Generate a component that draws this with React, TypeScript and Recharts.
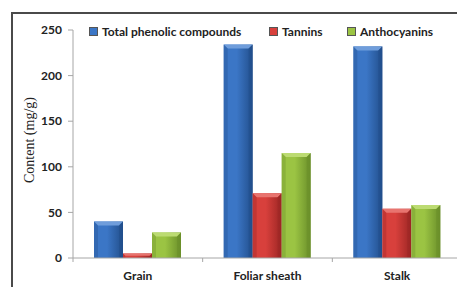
import React from "react";
import { BarChart, Bar, XAxis, YAxis, Legend } from "recharts";

const categories = ["Grain", "Foliar sheath", "Stalk"];
const totalPhenolic = [40, 234, 232];
const tannins = [5, 71, 54];
const anthocyanins = [28, 115, 58];
const yTicks = [0, 50, 100, 150, 200, 250];

const seriesNames = ["Total phenolic compounds", "Tannins", "Anthocyanins"];

const data = categories.map((c, i) => ({
  name: c,
  total: totalPhenolic[i],
  tannins: tannins[i],
  antho: anthocyanins[i],
}));

const palette = {
  total: { main: "#3b76c6", light: "#6f9ddb", dark: "#224f8c" },
  tannins: { main: "#d8403c", light: "#e8746f", dark: "#9c2624" },
  antho: { main: "#9bc443", light: "#bcdb72", dark: "#6a8f2a" },
};

const FONT = "Lato, 'Open Sans', sans-serif";

const makeShape = (key: "total" | "tannins" | "antho") => (props: any) => {
  const { x, y, width, height } = props;
  if (!height || height <= 0) return null;
  const b = Math.min(4, height / 2);
  const c = palette[key];
  return (
    <g>
      <rect x={x} y={y} width={width} height={height} fill={`url(#grad-${key})`} />
      <polygon
        points={`${x},${y} ${x + width},${y} ${x + width - b},${y + b} ${x + b},${y + b}`}
        fill={c.light}
      />
      <polygon
        points={`${x},${y} ${x + b},${y + b} ${x + b},${y + height} ${x},${y + height}`}
        fill={c.dark}
        opacity={0.35}
      />
      <polygon
        points={`${x + width},${y} ${x + width - b},${y + b} ${x + width - b},${y + height} ${x + width},${y + height}`}
        fill={c.dark}
        opacity={0.6}
      />
    </g>
  );
};

const legendColors = [palette.total.main, palette.tannins.main, palette.antho.main];
const legendOffsets = [0, 180, 258];

const LegendContent = () => (
  <div style={{ position: "relative", height: 16, fontFamily: FONT, fontWeight: 700, fontSize: 12, color: "#222" }}>
    {seriesNames.map((n, i) => (
      <div key={n} style={{ position: "absolute", left: legendOffsets[i], top: 0, display: "flex", alignItems: "center", whiteSpace: "nowrap" }}>
        <span style={{ display: "inline-block", width: 7, height: 7, background: legendColors[i], border: "0.5px solid #555", marginRight: 4 }} />
        <span>{n}</span>
      </div>
    ))}
  </div>
);

const CategoryTick = (props: any) => {
  const { x, y, payload } = props;
  const off = payload && typeof payload.offset === "number" ? payload.offset : 0;
  return (
    <g>
      <line x1={x - off} y1={y} x2={x - off} y2={y + 4} stroke="#a6a6a6" />
      {payload.index === categories.length - 1 && (
        <line x1={x + off} y1={y} x2={x + off} y2={y + 4} stroke="#a6a6a6" />
      )}
      <text
        x={x}
        y={y + 13}
        dy="0.71em"
        textAnchor="middle"
        fill="#222"
        fontFamily={FONT}
        fontWeight={700}
        fontSize={12}
      >
        {payload.value}
      </text>
    </g>
  );
};

export default function App() {
  return (
    <div style={{ position: "fixed", left: 0, top: 0, width: 457, height: 287, overflow: "hidden", background: "#fff" }}>
      <div
        style={{
          position: "absolute",
          left: 11,
          top: 12,
          width: 470,
          height: 300,
          border: "2px solid #4a4a4a",
          boxSizing: "border-box",
        }}
      />
      <div
        style={{
          position: "absolute",
          left: 30,
          top: 140,
          transform: "translate(-50%, -50%) rotate(-90deg)",
          fontFamily: "'Liberation Serif', 'Times New Roman', serif",
          fontSize: 14,
          color: "#222",
          whiteSpace: "nowrap",
        }}
      >
        Content (mg/g)
      </div>
      <div style={{ position: "absolute", left: 0, top: 0 }}>
        <BarChart
          width={470}
          height={287}
          data={data}
          margin={{ top: 30, right: 8, bottom: 0, left: 0 }}
          barGap={0}
          barSize={29}
        >
          <defs>
            {(["total", "tannins", "antho"] as const).map((k) => (
              <linearGradient key={k} id={`grad-${k}`} x1="0" y1="0" x2="1" y2="0">
                <stop offset="0%" stopColor={palette[k].main} />
                <stop offset="45%" stopColor={palette[k].main} />
                <stop offset="100%" stopColor={palette[k].dark} />
              </linearGradient>
            ))}
          </defs>
          <XAxis
            dataKey="name"
            axisLine={{ stroke: "#a6a6a6" }}
            tickLine={false}
            tickSize={0}
            tickMargin={0}
            height={29}
            tick={<CategoryTick />}
            interval={0}
          />
          <YAxis
            domain={[0, 250]}
            ticks={yTicks}
            width={73}
            axisLine={{ stroke: "#a6a6a6" }}
            tickLine={{ stroke: "#a6a6a6" }}
            tickSize={5}
            tickMargin={6}
            tick={{ fill: "#222", fontFamily: FONT, fontWeight: 700, fontSize: 12 }}
          />
          <Legend
            verticalAlign="middle"
            align="center"
            layout="horizontal"
            content={<LegendContent />}
            wrapperStyle={{ position: "absolute", top: 24, left: 89, width: 360 }}
          />
          <Bar dataKey="total" name={seriesNames[0]} fill={palette.total.main} shape={makeShape("total")} isAnimationActive={false} />
          <Bar dataKey="tannins" name={seriesNames[1]} fill={palette.tannins.main} shape={makeShape("tannins")} isAnimationActive={false} />
          <Bar dataKey="antho" name={seriesNames[2]} fill={palette.antho.main} shape={makeShape("antho")} isAnimationActive={false} />
        </BarChart>
      </div>
    </div>
  );
}
